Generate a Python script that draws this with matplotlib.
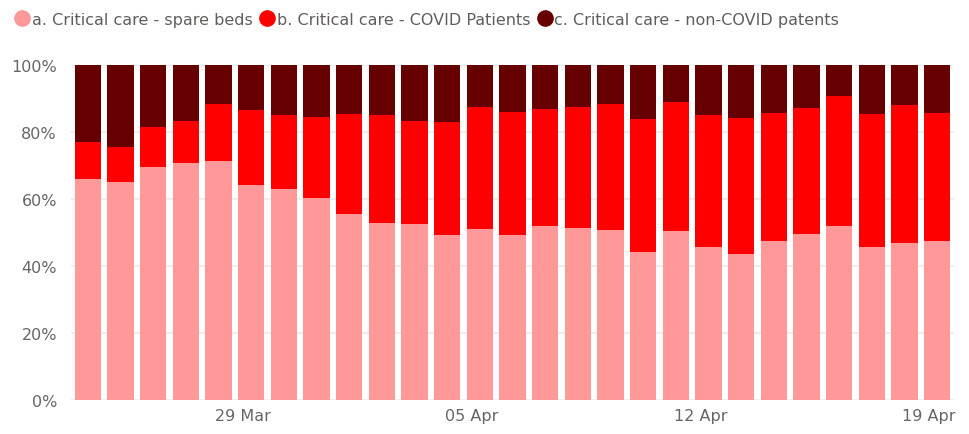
import numpy as np
import matplotlib.pyplot as plt
from matplotlib.lines import Line2D

# one bar per day, 24 Mar .. 19 Apr
dates = ["24 Mar", "25 Mar", "26 Mar", "27 Mar", "28 Mar", "29 Mar", "30 Mar", "31 Mar",
         "01 Apr", "02 Apr", "03 Apr", "04 Apr", "05 Apr", "06 Apr", "07 Apr", "08 Apr",
         "09 Apr", "10 Apr", "11 Apr", "12 Apr", "13 Apr", "14 Apr", "15 Apr", "16 Apr",
         "17 Apr", "18 Apr", "19 Apr"]
tick_labels = ["29 Mar", "05 Apr", "12 Apr", "19 Apr"]

# cumulative shares (%)
spare_top = [66.0, 65.0, 69.6, 70.8, 71.3, 64.3, 63.1, 60.3, 55.5, 53.0, 52.5, 49.4, 51.2,
             49.4, 52.0, 51.5, 50.9, 44.1, 50.6, 45.8, 43.6, 47.6, 49.7, 51.9, 45.6, 47.0, 47.5]
covid_top = [77.1, 75.6, 81.6, 83.3, 88.5, 86.7, 85.1, 84.5, 85.5, 85.0, 83.2, 83.0, 87.6,
             86.1, 86.9, 87.4, 88.4, 84.0, 89.1, 85.1, 84.3, 85.6, 87.1, 90.7, 85.5, 88.1, 85.6]

spare = np.array(spare_top)
covid = np.array(covid_top) - spare
non_covid = 100 - np.array(covid_top)

labels = ["a. Critical care - spare beds", "b. Critical care - COVID Patients",
          "c. Critical care - non-COVID patents"]
colors = ["#FF9999", "#FF0000", "#660000"]

fig = plt.figure(figsize=(9.7, 4.35), dpi=100)
ax = fig.add_axes([0.073, 0.078, 0.911, 0.77])

x = np.arange(len(dates))
bottom = np.zeros(len(dates))
for vals, col in zip([spare, covid, non_covid], colors):
    ax.bar(x, vals, bottom=bottom, width=0.8, color=col, edgecolor="none", zorder=2)
    bottom += vals

ax.set_xlim(-0.52, 26.53)
ax.set_ylim(0, 100)
ax.set_yticks(np.arange(0, 101, 20))
ax.set_yticklabels([f"{v}%" for v in range(0, 101, 20)])
ax.set_xticks([dates.index(t) - 0.25 for t in tick_labels])
ax.set_xticklabels(tick_labels)
ax.grid(axis="y", color="#EBEBEB", linewidth=1.2, zorder=0)
ax.tick_params(length=0, labelsize=11.5, labelcolor="#666666", pad=6)
ax.tick_params(axis="y", pad=10)
for s in ax.spines.values():
    s.set_visible(False)

handles = [Line2D([], [], marker="o", linestyle="none", markersize=11, color=c) for c in colors]
fig.legend(handles, labels, loc="upper left", bbox_to_anchor=(0.0, 1.0), ncol=3, frameon=False,
           fontsize=11.5, labelcolor="#605E5C", handletextpad=0.0, columnspacing=0.3,
           handlelength=1.2, borderaxespad=0.4)

plt.savefig("out.png", dpi=100)
